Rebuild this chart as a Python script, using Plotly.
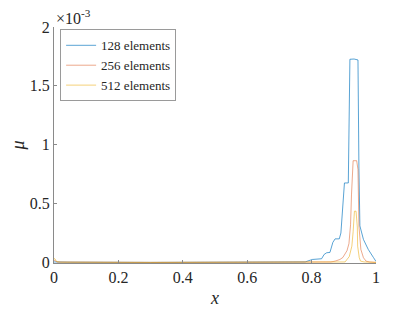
import plotly.graph_objects as go

# Data (x, mu in units of 1e-3)
x128 = [0.0, 0.05, 0.3, 0.6, 0.7, 0.72, 0.74, 0.78, 0.802, 0.831, 0.839, 0.847, 0.857, 0.866, 0.873,
        0.878, 0.886, 0.891, 0.902, 0.914, 0.919, 0.932, 0.944, 0.947, 0.950, 0.961, 0.976, 0.992, 1.0]
mu128 = [0.004, 0.002, 0.0, 0.0, 0.002, 0.006, 0.003, 0.004, 0.025, 0.031, 0.068, 0.082, 0.085, 0.17, 0.20,
         0.20, 0.20, 0.25, 0.675, 0.675, 1.726, 1.728, 1.72, 0.8, 0.31, 0.195, 0.11, 0.042, 0.008]

x256 = [0.0, 0.004, 0.01, 0.3, 0.6, 0.8, 0.86, 0.873, 0.888, 0.897, 0.904, 0.910, 0.916, 0.921, 0.924,
        0.929, 0.940, 0.944, 0.947, 0.953, 0.961, 0.969, 0.98, 1.0]
mu256 = [0.02, 0.012, 0.003, 0.0, 0.0, 0.002, 0.004, 0.011, 0.025, 0.042, 0.068, 0.10, 0.16, 0.32, 0.58,
         0.864, 0.864, 0.79, 0.31, 0.11, 0.04, 0.011, 0.004, 0.0]

x512 = [0.0, 0.003, 0.008, 0.02, 0.3, 0.6, 0.8, 0.9, 0.904, 0.917, 0.925, 0.929, 0.933, 0.938, 0.942,
        0.943, 0.948, 0.952, 0.963, 1.0]
mu512 = [0.034, 0.03, 0.008, 0.002, 0.0, 0.0, 0.0, 0.002, 0.004, 0.05, 0.138, 0.26, 0.435, 0.435, 0.30,
         0.138, 0.04, 0.011, 0.004, 0.0]

names = ["128 elements", "256 elements", "512 elements"]
colors = ["rgba(0,114,189,0.65)", "rgba(217,83,25,0.5)", "rgba(237,177,32,0.6)"]

xticks = [0, 0.2, 0.4, 0.6, 0.8, 1]
xticklabels = ["0", "0.2", "0.4", "0.6", "0.8", "1"]
yticks = [0, 0.5, 1, 1.5, 2]
yticklabels = ["0", "0.5", "1", "1.5", "2"]
scale = 1e-3

FONT = "Liberation Serif, Times New Roman, serif"

fig = go.Figure()
for xs, ys, nm, c in zip([x128, x256, x512], [mu128, mu256, mu512], names, colors):
    fig.add_trace(go.Scatter(x=xs, y=[v * scale for v in ys], mode="lines", name=nm,
                             line=dict(color=c, width=1)))

axcol = "#8a8a8a"
# page body has an 8px margin: compensate in the figure margins
fig.update_layout(
    width=415, height=312,
    margin=dict(l=46, r=47, t=19, b=57),
    paper_bgcolor="white", plot_bgcolor="white",
    font=dict(family=FONT, size=16, color="#262626"),
    showlegend=True,
    legend=dict(x=0.019, y=0.99, xanchor="left", yanchor="top",
                bgcolor="white", bordercolor="#9a9a9a", borderwidth=1,
                font=dict(family=FONT, size=13, color="#262626"),
                tracegroupgap=0, itemwidth=30),
    xaxis=dict(range=[0, 1], tickvals=xticks, ticktext=xticklabels, automargin=False,
               showgrid=False, zeroline=False, showline=True, linecolor=axcol, linewidth=1,
               ticks="inside", ticklen=3, tickcolor=axcol,
               tickfont=dict(family=FONT, size=16),
               title=dict(text="<i>x</i>", font=dict(family=FONT, size=18), standoff=6)),
    yaxis=dict(range=[-0.005e-3, 2e-3], tickvals=[v * scale for v in yticks], ticktext=yticklabels,
               automargin=False,
               showgrid=False, zeroline=False, showline=True, linecolor=axcol, linewidth=1,
               ticks="inside", ticklen=3, tickcolor=axcol,
               tickfont=dict(family=FONT, size=16),
               title=dict(text="<i>μ</i>", font=dict(family=FONT, size=18), standoff=20)),
)
fig.add_annotation(text="×10<sup>-3</sup>", xref="paper", yref="paper", x=0.0, y=1.0,
                   xanchor="left", yanchor="bottom", showarrow=False,
                   font=dict(family=FONT, size=16, color="#262626"), yshift=-2)

fig.write_html("out.html")
